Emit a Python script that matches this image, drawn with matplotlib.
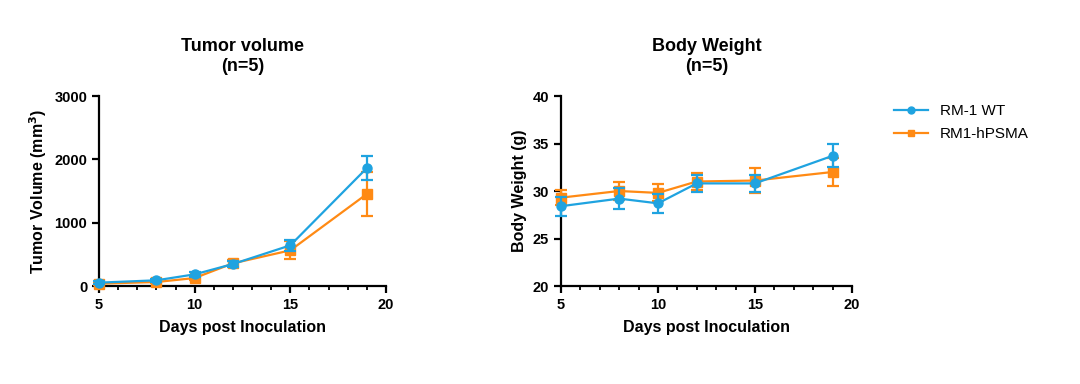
import matplotlib
matplotlib.use("Agg")
import matplotlib.pyplot as plt
from matplotlib.ticker import MultipleLocator
from matplotlib.lines import Line2D

plt.rcParams['font.family'] = ['Liberation Sans', 'DejaVu Sans']

days = [5, 8, 10, 12, 15, 19]
series_names = ["RM-1 WT", "RM1-hPSMA"]

tumor_wt = [53, 90, 184, 347, 642, 1863]
tumor_wt_err = [20, 25, 35, 40, 90, 190]
tumor_ps = [37, 63, 126, 358, 563, 1453]
tumor_ps_err = [15, 20, 30, 45, 140, 350]

bw_wt = [28.4, 29.2, 28.7, 30.8, 30.8, 33.7]
bw_wt_err = [1.0, 1.1, 1.0, 0.9, 0.9, 1.2]
bw_ps = [29.3, 30.0, 29.8, 31.0, 31.1, 32.0]
bw_ps_err = [0.8, 0.95, 0.9, 0.9, 1.3, 1.5]

blue = '#1FA3E0'
orange = '#FF8A14'

fig = plt.figure(figsize=(10.8, 3.84), dpi=100)
ax1 = fig.add_axes([0.0917, 0.2552, 0.2657, 0.4948])
ax2 = fig.add_axes([0.5194, 0.2552, 0.2694, 0.4948])

def style(ax, ylim, ymajor):
    for s in ['top', 'right']:
        ax.spines[s].set_visible(False)
    for s in ['left', 'bottom']:
        ax.spines[s].set_linewidth(1.6)
    ax.set_xlim(5, 20)
    ax.set_ylim(*ylim)
    ax.xaxis.set_major_locator(MultipleLocator(5))
    ax.xaxis.set_minor_locator(MultipleLocator(1))
    ax.yaxis.set_major_locator(MultipleLocator(ymajor))
    ax.tick_params(axis='both', which='major', length=5, width=1.6, labelsize=10.5)
    ax.tick_params(axis='x', which='minor', length=3, width=1.3)
    for lab in ax.get_xticklabels() + ax.get_yticklabels():
        lab.set_fontweight('bold')
    ax.set_xlabel("Days post Inoculation", fontsize=11.5, fontweight='bold', labelpad=6)

def plot_series(ax, y, err, color, marker, label, z):
    ax.errorbar(days, y, yerr=err, color=color, marker=marker, markersize=6.5,
                linewidth=1.6, elinewidth=1.6, capsize=4, capthick=1.6,
                label=label, zorder=z, clip_on=False)

plot_series(ax1, tumor_ps, tumor_ps_err, orange, 's', series_names[1], 3)
plot_series(ax1, tumor_wt, tumor_wt_err, blue, 'o', series_names[0], 4)
style(ax1, (0, 3000), 1000)
ax1.set_ylabel("Tumor Volume (mm$^{\\mathbf{3}}$)", fontsize=11.5, fontweight='bold')
ax1.set_title("Tumor volume\n(n=5)", fontsize=13, fontweight='bold', pad=18, linespacing=1.2)

plot_series(ax2, bw_ps, bw_ps_err, orange, 's', series_names[1], 3)
plot_series(ax2, bw_wt, bw_wt_err, blue, 'o', series_names[0], 4)
style(ax2, (20, 40), 5)
ax2.set_ylabel("Body Weight (g)", fontsize=11.5, fontweight='bold')
ax2.set_title("Body Weight\n(n=5)", fontsize=13, fontweight='bold', pad=18, linespacing=1.2)

handles = [Line2D([], [], color=blue, marker='o', markersize=5, linewidth=1.6),
           Line2D([], [], color=orange, marker='s', markersize=5, linewidth=1.6)]
fig.legend(handles, series_names, loc='upper left',
           bbox_to_anchor=(0.815, 0.765), frameon=False, fontsize=11,
           handlelength=2.2, labelspacing=0.6)

fig.savefig("out.png", dpi=100)
